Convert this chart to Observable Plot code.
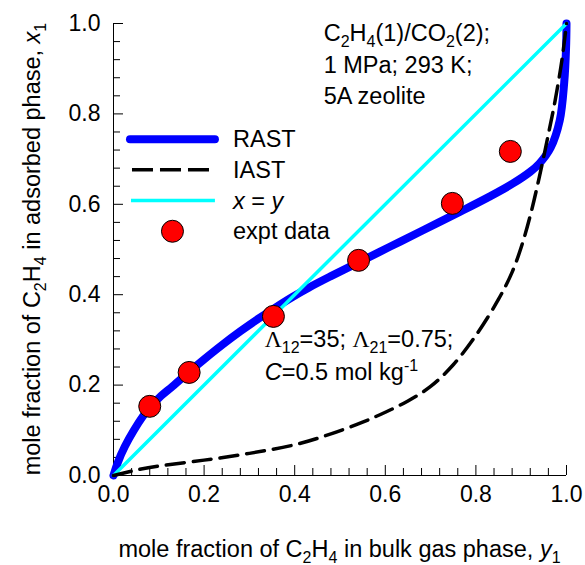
<!DOCTYPE html>
<html>
<head>
<meta charset="utf-8">
<script src="https://cdn.jsdelivr.net/npm/d3@7"></script>
<script src="https://cdn.jsdelivr.net/npm/@observablehq/plot@0.6"></script>
<style>
  html, body { margin: 0; padding: 0; background: #fff; }
  #chart svg { font-family: Arial, "Liberation Sans", Helvetica, sans-serif; }
</style>
</head>
<body>
<div id="chart"></div>
<script>
// RAST model: mole fraction in bulk gas (y1) vs adsorbed phase (x1)
const rastGas = [0, 0.01, 0.025, 0.045, 0.065, 0.08, 0.105, 0.13, 0.17, 0.20, 0.24, 0.28, 0.32, 0.355, 0.395, 0.43, 0.48, 0.54, 0.61, 0.68, 0.76, 0.83, 0.88, 0.92, 0.94, 0.965, 0.985, 0.995, 0.999, 1.0];
const rastAds = [0, 0.03, 0.064, 0.100, 0.131, 0.150, 0.176, 0.197, 0.232, 0.257, 0.289, 0.319, 0.347, 0.370, 0.395, 0.415, 0.441, 0.471, 0.506, 0.541, 0.581, 0.617, 0.645, 0.672, 0.69, 0.725, 0.785, 0.87, 0.945, 1.0];

// IAST model
const iastGas = [0, 0.05, 0.1, 0.2, 0.3, 0.4, 0.48, 0.55, 0.6, 0.65, 0.7, 0.75, 0.8, 0.85, 0.88, 0.9, 0.92, 0.94, 0.96, 0.975, 0.99, 1.0];
const iastAds = [0, 0.012, 0.021, 0.034, 0.049, 0.068, 0.092, 0.118, 0.14, 0.165, 0.197, 0.245, 0.31, 0.39, 0.45, 0.505, 0.575, 0.66, 0.755, 0.83, 0.92, 1.0];

// x = y diagonal
const diagonal = [0, 1];

// Experimental data
const exptGas = [0.080, 0.167, 0.353, 0.541, 0.748, 0.876];
const exptAds = [0.153, 0.228, 0.352, 0.476, 0.602, 0.717];

// Axis ticks
const majorTicks = [0, 0.2, 0.4, 0.6, 0.8, 1.0];
const minorTicks = [0.04, 0.08, 0.12, 0.16, 0.24, 0.28, 0.32, 0.36, 0.44, 0.48, 0.52, 0.56, 0.64, 0.68, 0.72, 0.76, 0.84, 0.88, 0.92, 0.96];

// Legend entries
const legendLabels = ["RAST", "IAST", "x = y", "expt data"];

const rast = rastGas.map((g, i) => ({g, a: rastAds[i]}));
const iast = iastGas.map((g, i) => ({g, a: iastAds[i]}));
const expt = exptGas.map((g, i) => ({g, a: exptAds[i]}));

const FONT = 23.5, TICK_FONT = 23, SUB_FONT = 16;
const BLUE = "#0000ff", CYAN = "#00ffff", RED = "#ff0000";

const chart = Plot.plot({
  width: 585,
  height: 565,
  marginLeft: 113,
  marginRight: 19,
  marginTop: 23,
  marginBottom: 90,
  style: {fontFamily: "Arial, 'Liberation Sans', sans-serif", fontSize: TICK_FONT + "px", color: "#000", background: "#fff", overflow: "visible"},
  x: {domain: [0, 1]},
  y: {domain: [0, 1]},
  marks: [
    // inward ticks
    Plot.axisX({ticks: minorTicks, tickSize: -7, tickFormat: () => "", label: null}),
    Plot.axisX({ticks: majorTicks, tickSize: -10, tickFormat: () => "", label: null}),
    Plot.axisY({ticks: minorTicks, tickSize: -7, tickFormat: () => "", label: null}),
    Plot.axisY({ticks: majorTicks, tickSize: -10, tickFormat: () => "", label: null}),
    // tick labels
    Plot.axisX({ticks: majorTicks, tickSize: 0, tickPadding: 10, tickFormat: d3.format(".1f"), label: null, fontSize: TICK_FONT}),
    Plot.axisY({ticks: majorTicks, tickSize: 0, tickPadding: 13, tickFormat: d3.format(".1f"), label: null, fontSize: TICK_FONT}),
    // axis lines
    Plot.ruleX([0], {stroke: "#000", strokeWidth: 1}),
    Plot.ruleY([0], {stroke: "#000", strokeWidth: 1}),
    // curves
    Plot.line(rast, {x: "g", y: "a", stroke: BLUE, strokeWidth: 8, curve: "catmull-rom", strokeLinecap: "round", strokeLinejoin: "round"}),
    Plot.line(diagonal, {x: d => d, y: d => d, stroke: CYAN, strokeWidth: 3.5}),
    Plot.line(iast, {x: "g", y: "a", stroke: "#000", strokeWidth: 3.5, strokeDasharray: "18,9", curve: "catmull-rom"}),
    Plot.dot(expt, {x: "g", y: "a", r: 11, fill: RED, stroke: "#000", strokeWidth: 1})
  ]
});

document.getElementById("chart").appendChild(chart);

const sx = chart.scale("x"), sy = chart.scale("y");
const svg = d3.select(chart);

// text with sub/superscripts, italics and serif glyphs
function richText(parent, parts, attrs) {
  const t = parent.append("text").attr("font-size", FONT).attr("fill", "#000").attr("text-anchor", "start");
  for (const [k, v] of Object.entries(attrs)) t.attr(k, v);
  let shift = 0;
  for (const p of parts) {
    const s = typeof p === "string" ? {t: p} : p;
    const target = s.sub ? 6 : s.sup ? -9 : 0;
    const ts = t.append("tspan").text(s.t);
    if (target !== shift) { ts.attr("dy", target - shift); shift = target; }
    if (s.sub || s.sup) ts.attr("font-size", SUB_FONT);
    if (s.italic) ts.attr("font-style", "italic");
    if (s.serif) ts.attr("font-family", "'Liberation Serif', 'DejaVu Serif', serif");
  }
  return t;
}

const g = svg.append("g");

// axis titles
const cx = (sx.apply(0) + sx.apply(1)) / 2;
const cy = (sy.apply(0) + sy.apply(1)) / 2;
richText(g, ["mole fraction of C", {t: "2", sub: 1}, "H", {t: "4", sub: 1}, " in bulk gas phase, ", {t: "y", italic: 1}, {t: "1", sub: 1}],
  {x: cx, y: sy.apply(0) + 82, "text-anchor": "middle"});
richText(g, ["mole fraction of C", {t: "2", sub: 1}, "H", {t: "4", sub: 1}, " in adsorbed phase, ", {t: "x", italic: 1}, {t: "1", sub: 1}],
  {transform: `translate(${sx.apply(0) - 73},${cy}) rotate(-90)`, "text-anchor": "middle"});

// system annotation
const nx = sx.apply(0.465), ny = sy.apply(0.96);
richText(g, ["C", {t: "2", sub: 1}, "H", {t: "4", sub: 1}, "(1)/CO", {t: "2", sub: 1}, "(2);"], {x: nx, y: ny});
richText(g, ["1 MPa; 293 K;"], {x: nx, y: ny + 31.5});
richText(g, ["5A zeolite"], {x: nx, y: ny + 63});

// model parameters
const px = sx.apply(0.335), py = sy.apply(0.283);
richText(g, [{t: "\u039B", serif: 1}, {t: "12", sub: 1}, "=35; ", {t: "\u039B", serif: 1}, {t: "21", sub: 1}, "=0.75;"], {x: px, y: py});
richText(g, [{t: "C", italic: 1}, "=0.5 mol kg", {t: "-1", sup: 1}], {x: px, y: py + 33});

// legend
const lx1 = sx.apply(0.0375), lx2 = sx.apply(0.225), ltx = sx.apply(0.265);
const ly0 = sy.apply(0.743), lstep = 30.7;
const lg = svg.append("g");
lg.append("line").attr("x1", lx1).attr("x2", lx2).attr("y1", ly0).attr("y2", ly0)
  .attr("stroke", BLUE).attr("stroke-width", 8).attr("stroke-linecap", "round");
lg.append("line").attr("x1", lx1 + 2).attr("x2", lx2).attr("y1", ly0 + lstep).attr("y2", ly0 + lstep)
  .attr("stroke", "#000").attr("stroke-width", 3.5).attr("stroke-dasharray", "21,7");
lg.append("line").attr("x1", lx1 + 1).attr("x2", lx2).attr("y1", ly0 + 2 * lstep).attr("y2", ly0 + 2 * lstep)
  .attr("stroke", CYAN).attr("stroke-width", 3.5);
lg.append("circle").attr("cx", (lx1 + lx2) / 2).attr("cy", ly0 + 3 * lstep).attr("r", 11)
  .attr("fill", RED).attr("stroke", "#000").attr("stroke-width", 1);
const legendParts = [
  [legendLabels[0]],
  [legendLabels[1]],
  [{t: "x", italic: 1}, " = ", {t: "y", italic: 1}],
  [legendLabels[3]]
];
legendParts.forEach((parts, i) => {
  richText(lg, parts, {x: ltx, y: ly0 + i * lstep + 8});
});
</script>
</body>
</html>
